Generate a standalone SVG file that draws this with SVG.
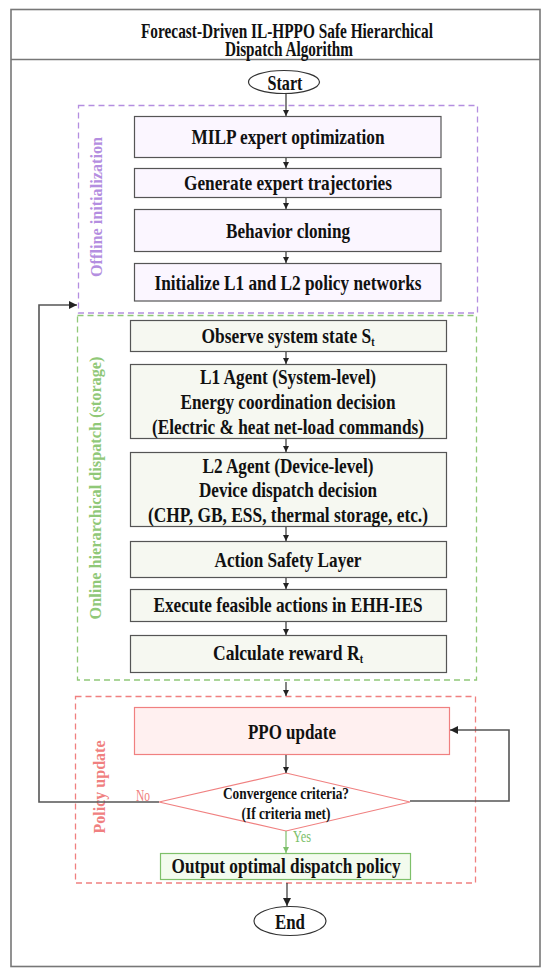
<svg xmlns="http://www.w3.org/2000/svg" width="550" height="976" viewBox="0 0 550 976">
<style>
text{font-family:"Liberation Serif","Times New Roman",serif;font-weight:bold;fill:#111;text-anchor:middle}
.t{font-size:21px}
.s{font-size:17px}
.off{fill:#fbf6ff;stroke:#555;stroke-width:1.2}
.on{fill:#f6f8f1;stroke:#555;stroke-width:1.2}
.con{stroke:#333;stroke-width:1.2;fill:none}
.loop{stroke:#555;stroke-width:1.6;fill:none}
</style>
<defs>
<marker id="ah" viewBox="0 0 10 10" refX="10" refY="5" markerWidth="6" markerHeight="6" orient="auto" markerUnits="userSpaceOnUse"><path d="M0,0 L10,5 L0,10 z" fill="#222"/></marker>
<marker id="ahb" viewBox="0 0 10 10" refX="10" refY="5" markerWidth="8" markerHeight="8" orient="auto" markerUnits="userSpaceOnUse"><path d="M0,0 L10,5 L0,10 z" fill="#222"/></marker>
<marker id="ahg" viewBox="0 0 10 10" refX="10" refY="5" markerWidth="6" markerHeight="6" orient="auto" markerUnits="userSpaceOnUse"><path d="M0,0 L10,5 L0,10 z" fill="#7cbf6a"/></marker>
</defs>
<rect width="550" height="976" fill="#fff"/>
<g id="frame">
<rect x="11" y="9.5" width="529" height="957" fill="none" stroke="#777" stroke-width="1.6"/>
<line x1="11" y1="59.5" x2="540" y2="59.5" stroke="#777" stroke-width="1.4"/>
<text x="287" y="38" style="font-size:20px" textLength="292" lengthAdjust="spacingAndGlyphs">Forecast-Driven IL-HPPO Safe Hierarchical</text>
<text x="289" y="56" style="font-size:20px" textLength="128" lengthAdjust="spacingAndGlyphs">Dispatch Algorithm</text>
</g>
<g id="groups">
<rect x="78.5" y="105.5" width="399" height="207.5" fill="none" stroke="#b48ee0" stroke-width="1.3" stroke-dasharray="6,4"/>
<text transform="translate(102,207) rotate(-90)" style="font-size:17px;fill:#b48ee0" textLength="140" lengthAdjust="spacingAndGlyphs">Offline initialization</text>
<rect x="77.5" y="315.5" width="399" height="364.5" fill="none" stroke="#90c878" stroke-width="1.3" stroke-dasharray="6,4"/>
<text transform="translate(101,488) rotate(-90)" style="font-size:17px;fill:#90c878" textLength="263" lengthAdjust="spacingAndGlyphs">Online hierarchical dispatch (storage)</text>
<rect x="75.5" y="696.5" width="400" height="186.5" fill="none" stroke="#f08080" stroke-width="1.3" stroke-dasharray="6,4"/>
<text transform="translate(105,787) rotate(-90)" style="font-size:17px;fill:#f08080" textLength="93" lengthAdjust="spacingAndGlyphs">Policy update</text>
</g>
<g id="start">
<ellipse cx="284" cy="82" rx="35.5" ry="11.5" fill="#fff" stroke="#333" stroke-width="1.2"/>
<text x="285" y="89.5" style="font-size:22px" textLength="35" lengthAdjust="spacingAndGlyphs">Start</text>
</g>
<g id="milp">
<rect class="off" x="134.5" y="116.5" width="306.5" height="41"/>
<text class="t" x="288" y="144" textLength="193" lengthAdjust="spacingAndGlyphs">MILP expert optimization</text>
</g>
<g id="generate">
<rect class="off" x="134.5" y="168.5" width="306.5" height="29"/>
<text class="t" x="288" y="190" textLength="208" lengthAdjust="spacingAndGlyphs">Generate expert trajectories</text>
</g>
<g id="bc">
<rect class="off" x="134.5" y="209.5" width="306.5" height="42"/>
<text class="t" x="288" y="237.5" textLength="124" lengthAdjust="spacingAndGlyphs">Behavior cloning</text>
</g>
<g id="init">
<rect class="off" x="134.5" y="263.5" width="306.5" height="37.5"/>
<text class="t" x="288" y="289.5" textLength="267" lengthAdjust="spacingAndGlyphs">Initialize L1 and L2 policy networks</text>
</g>
<g id="observe">
<rect class="on" x="130.5" y="320.5" width="316" height="31"/>
<text class="t" x="288" y="342.5" textLength="173" lengthAdjust="spacingAndGlyphs">Observe system state S<tspan style="font-size:12px" dy="3">t</tspan></text>
</g>
<g id="l1">
<rect class="on" x="130.5" y="364.5" width="316" height="74"/>
<text class="t" x="288" y="384" textLength="176" lengthAdjust="spacingAndGlyphs">L1 Agent (System-level)</text>
<text class="t" x="288" y="409" textLength="215" lengthAdjust="spacingAndGlyphs">Energy coordination decision</text>
<text class="t" x="288" y="434" textLength="272" lengthAdjust="spacingAndGlyphs">(Electric &amp; heat net-load commands)</text>
</g>
<g id="l2">
<rect class="on" x="130.5" y="452.5" width="316" height="74"/>
<text class="t" x="288" y="473" textLength="171" lengthAdjust="spacingAndGlyphs">L2 Agent (Device-level)</text>
<text class="t" x="288" y="497" textLength="178" lengthAdjust="spacingAndGlyphs">Device dispatch decision</text>
<text class="t" x="288" y="521.5" textLength="280" lengthAdjust="spacingAndGlyphs">(CHP, GB, ESS, thermal storage, etc.)</text>
</g>
<g id="safety">
<rect class="on" x="130.5" y="541.5" width="316" height="36"/>
<text class="t" x="288" y="567" textLength="147" lengthAdjust="spacingAndGlyphs">Action Safety Layer</text>
</g>
<g id="execute">
<rect class="on" x="130.5" y="589.5" width="316" height="32"/>
<text class="t" x="288" y="612" textLength="269" lengthAdjust="spacingAndGlyphs">Execute feasible actions in EHH-IES</text>
</g>
<g id="reward">
<rect class="on" x="130.5" y="635.5" width="316" height="37"/>
<text class="t" x="288" y="660" textLength="150" lengthAdjust="spacingAndGlyphs">Calculate reward R<tspan style="font-size:12px" dy="3">t</tspan></text>
</g>
<g id="ppo">
<rect x="134.5" y="707.5" width="315" height="47" fill="#fff0f0" stroke="#f08080" stroke-width="1.2"/>
<text class="t" x="292" y="738.5" textLength="88" lengthAdjust="spacingAndGlyphs">PPO update</text>
</g>
<g id="decision">
<polygon points="286,773 410,802 286,831 159,802" fill="#fff" stroke="#f08080" stroke-width="1.2"/>
<text class="s" x="286" y="798.5" textLength="126" lengthAdjust="spacingAndGlyphs">Convergence criteria?</text>
<text class="s" x="286" y="818.5" textLength="89" lengthAdjust="spacingAndGlyphs">(If criteria met)</text>
</g>
<g id="output">
<rect x="160.5" y="853.5" width="250" height="26" fill="#f3fbee" stroke="#7ec06a" stroke-width="1.2"/>
<text class="t" x="286" y="873" textLength="229" lengthAdjust="spacingAndGlyphs">Output optimal dispatch policy</text>
</g>
<g id="end">
<ellipse cx="290" cy="921" rx="36" ry="14.5" fill="#fff" stroke="#333" stroke-width="1.2"/>
<text x="290" y="928.5" style="font-size:22px" textLength="30" lengthAdjust="spacingAndGlyphs">End</text>
</g>
<g id="connectors">
<line class="con" x1="286" y1="93.5" x2="286" y2="116" marker-end="url(#ah)"/>
<line class="con" x1="286" y1="158" x2="286" y2="168" marker-end="url(#ah)"/>
<line class="con" x1="286" y1="198" x2="286" y2="209" marker-end="url(#ah)"/>
<line class="con" x1="286" y1="252" x2="286" y2="263" marker-end="url(#ah)"/>
<line class="con" x1="286" y1="352" x2="286" y2="364" marker-end="url(#ah)"/>
<line class="con" x1="286" y1="439" x2="286" y2="452" marker-end="url(#ah)"/>
<line class="con" x1="286" y1="527" x2="286" y2="541" marker-end="url(#ah)"/>
<line class="con" x1="286" y1="578" x2="286" y2="589" marker-end="url(#ah)"/>
<line class="con" x1="286" y1="622" x2="286" y2="635" marker-end="url(#ah)"/>
<line class="con" x1="286" y1="682" x2="286" y2="696" marker-end="url(#ah)"/>
<line class="con" x1="286" y1="755" x2="286" y2="773" marker-end="url(#ah)"/>
<line x1="286" y1="831" x2="286" y2="853" stroke="#7cbf6a" stroke-width="1.2" marker-end="url(#ahg)"/>
<line class="con" x1="287" y1="883" x2="287" y2="906" marker-end="url(#ahb)"/>
<polyline class="loop" points="159,802 39,802 39,305 77,305" marker-end="url(#ahb)"/>
<polyline class="loop" points="410,801 509,801 509,730 450,730" marker-end="url(#ahb)"/>
<text x="143" y="801" style="font-size:16px;font-weight:normal;fill:#f08080" textLength="14" lengthAdjust="spacingAndGlyphs">No</text>
<text x="302" y="842" style="font-size:16px;font-weight:normal;fill:#7cbf6a" textLength="18" lengthAdjust="spacingAndGlyphs">Yes</text>
</g>
</svg>
